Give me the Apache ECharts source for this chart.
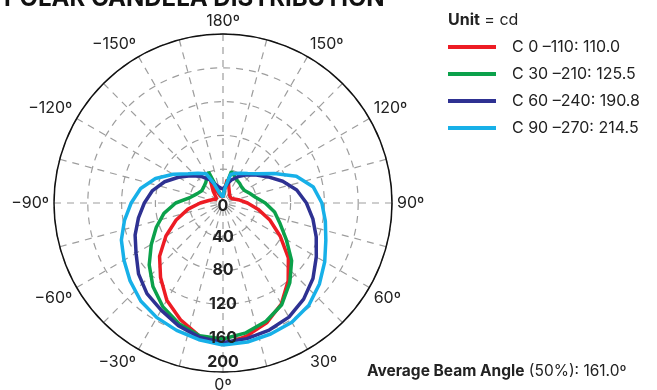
<!DOCTYPE html>
<html>
<head>
<meta charset="utf-8">
<script src="https://cdn.jsdelivr.net/npm/echarts@6/dist/echarts.min.js"></script>
<style>
html, body { margin: 0; padding: 0; background: #fff; }
#chart { width: 657px; height: 390px; }
</style>
</head>
<body>
<div id="chart"></div>
<script>
// angles as printed on the chart: 0 at the bottom, + to the right, - to the left
var angles = [0, 10, 20, 30, 40, 50, 60, 70, 80, 90, 100, 110, 120, 130, 140, 150,
              160, 165, 170, 175, 180, -175, -170, -165, -160, -155, -150,
              -140, -130, -120, -110, -100, -90, -80, -70, -60, -50, -40, -30, -20, -10];

// candela values, one per angle above
var c0_110 = [168, 160, 151, 138, 120, 101, 78, 59, 42, 29, 20, 14, 11, 10, 12, 15,
              20, 25, 28, 14, 7, 7, 7.5, 8, 9, 12, 29,
              18, 11, 9, 12, 17, 27, 42, 59, 78, 98, 115, 133, 147, 160];
var c30_210 = [161, 156, 149, 139, 123, 106, 86.5, 72, 62, 50, 39, 33.5, 29.5, 29, 30.5, 32,
               36, 38.7, 22, 15, 7, 7, 8, 10, 15, 40.6, 37,
               31.7, 29.7, 29, 32.4, 39, 56, 71, 84, 98, 114, 129, 142, 152, 159.6];
var c60_240 = [165, 163, 160, 156, 148.5, 139, 127.5, 117.4, 108, 98.7, 88.6, 75.2, 61.7, 51.6, 43.5, 36,
               29, 25, 21, 18, 17, 17, 18, 20, 22, 25.5, 31.8,
               41.5, 50.2, 61, 73.5, 84.7, 93.1, 101.6, 110.7, 118.8, 130.5, 140, 146.4, 154.4, 161.2];
var c90_270 = [168, 167, 165, 163, 158, 149, 139, 129.5, 123, 117, 108.6, 92.4, 70, 54, 45.5, 40.5,
               37, 35, 22, 14, 7, 7.5, 8, 9, 13, 26, 40,
               46, 54, 68, 85, 99, 108.7, 118.4, 128, 135.3, 143.5, 151.4, 156.6, 160.4, 164.3];

var seriesNames = ['C 0 \u2013110: 110.0', 'C 30 \u2013210: 125.5', 'C 60 \u2013240: 190.8', 'C 90 \u2013270: 214.5'];
var seriesColors = ['#ED1C24', '#0BA14B', '#2E3192', '#17B0E8'];
var radiusTicks = [0, 40, 80, 120, 160, 200];

var FONT = 'Inter, Roboto, sans-serif';

function toPolar(vals) {
    var pts = angles.map(function (a, i) { return [vals[i], a < 0 ? a + 360 : a]; });
    pts.push([vals[0], 360]);
    return pts;
}

var dashed = { color: '#9d9d9d', width: 1.2, type: [7, 6] };
var polarBox = { center: [223, 203], radius: 169 };

var chart = echarts.init(document.getElementById('chart'));
chart.setOption({
    animation: false,
    // second polar is the same circle, only used to put the radius labels above the curves
    polar: [polarBox, Object.assign({ z: 10 }, polarBox)],
    angleAxis: [{
        polarIndex: 0,
        type: 'value',
        min: 0,
        max: 360,
        interval: 15,
        startAngle: 270,
        clockwise: false,
        axisLine: { lineStyle: { color: '#111', width: 1.5 } },
        axisTick: { show: false },
        axisLabel: {
            margin: 5,
            fontSize: 16,
            fontFamily: FONT,
            color: '#222',
            formatter: function (v) {
                if (v % 30 !== 0 || v === 360) return '';
                if (v > 180) return '\u2212' + (360 - v) + '\u00ba';
                return v + '\u00ba';
            }
        },
        splitLine: { show: true, lineStyle: dashed }
    }, {
        polarIndex: 1,
        type: 'value',
        min: 0,
        max: 360,
        startAngle: 270,
        clockwise: false,
        show: false
    }],
    radiusAxis: [{
        polarIndex: 0,
        type: 'value',
        min: radiusTicks[0],
        max: radiusTicks[radiusTicks.length - 1],
        interval: 40,
        axisLine: { show: false },
        axisTick: { show: false },
        axisLabel: { show: false },
        splitLine: { show: true, lineStyle: dashed }
    }, {
        polarIndex: 1,
        type: 'value',
        z: 10,
        min: radiusTicks[0],
        max: radiusTicks[radiusTicks.length - 1],
        interval: 40,
        axisLine: { show: false },
        axisTick: { show: false },
        splitLine: { show: false },
        axisLabel: {
            margin: 0,
            align: 'center',
            verticalAlign: 'middle',
            fontSize: 16,
            fontWeight: 'bold',
            fontFamily: FONT,
            color: '#222',
            formatter: function (v) {
                if (v === 0) return '{lo|0}';
                if (v === 200) return '{hi|200}';
                return v;
            },
            rich: {
                lo: { fontSize: 16, fontWeight: 'bold', fontFamily: FONT, color: '#222', padding: [6, 0, 0, 0] },
                hi: { fontSize: 16, fontWeight: 'bold', fontFamily: FONT, color: '#222', padding: [0, 0, 20, 0] }
            }
        }
    }],
    legend: {
        orient: 'vertical',
        left: 448,
        top: 38,
        padding: 0,
        icon: 'rect',
        itemWidth: 48,
        itemHeight: 4,
        itemGap: 9,
        selectedMode: false,
        textStyle: { fontSize: 16, fontFamily: FONT, color: '#222', lineHeight: 18, padding: [0, 0, 0, 11] },
        data: seriesNames
    },
    graphic: [
        {
            type: 'text',
            style: {
                text: 'POLAR CANDELA DISTRIBUTION',
                x: 4, y: 11,
                verticalAlign: 'bottom',
                fontSize: 24, fontWeight: 'bold', fontFamily: FONT,
                fill: '#111'
            }
        },
        {
            type: 'text',
            style: {
                text: '{b|Unit} = cd',
                x: 448, y: 20,
                verticalAlign: 'middle',
                fontSize: 16, fontFamily: FONT, fill: '#222',
                rich: { b: { fontSize: 16, fontWeight: 'bold', fontFamily: FONT, fill: '#222' } }
            }
        },
        {
            type: 'text',
            style: {
                text: '{b|Average Beam Angle} (50%): 161.0\u00ba',
                x: 367, y: 371,
                verticalAlign: 'middle',
                fontSize: 15.5, fontFamily: FONT, fill: '#222',
                rich: { b: { fontSize: 15.5, fontWeight: 'bold', fontFamily: FONT, fill: '#222' } }
            }
        }
    ],
    series: [c0_110, c30_210, c60_240, c90_270].map(function (vals, i) {
        return {
            type: 'line',
            name: seriesNames[i],
            coordinateSystem: 'polar',
            polarIndex: 0,
            showSymbol: false,
            data: toPolar(vals),
            itemStyle: { color: seriesColors[i] },
            lineStyle: { color: seriesColors[i], width: 3.5 }
        };
    })
});
</script>
</body>
</html>
